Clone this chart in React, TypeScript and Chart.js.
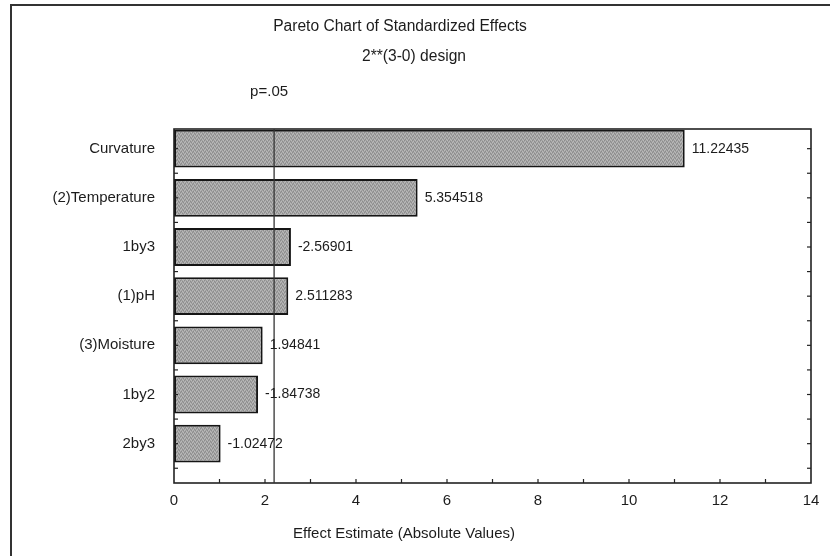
import React, { useEffect, useRef } from "react";
import { Chart, registerables } from "chart.js";

Chart.register(...registerables);

// ---- data ----
const categories = ["Curvature", "(2)Temperature", "1by3", "(1)pH", "(3)Moisture", "1by2", "2by3"];
const effects = [11.22435, 5.354518, -2.56901, 2.511283, 1.94841, -1.84738, -1.02472];
const xTickValues = [0, 2, 4, 6, 8, 10, 12, 14];
const pCritical = 2.2;
const titleText = "Pareto Chart of Standardized Effects";
const subtitleText = "2**(3-0) design";
const pLabelText = "p=.05";
const xAxisTitle = "Effect Estimate (Absolute Values)";

const FONT = '"Liberation Sans", Arial, sans-serif';
const INK = "#1c1c1c";

const decorPlugin = {
  id: "decor",
  afterDatasetsDraw(chart: any) {
    const { ctx, chartArea, scales } = chart;
    const xs = scales.x;
    const ys = scales.y;
    ctx.save();
    // plot border
    ctx.strokeStyle = "#222";
    ctx.lineWidth = 1.6;
    ctx.strokeRect(chartArea.left, chartArea.top, chartArea.right - chartArea.left, chartArea.bottom - chartArea.top);
    // x ticks (inside, every unit)
    ctx.lineWidth = 1.2;
    for (let v = 1; v < 14; v++) {
      const px = xs.getPixelForValue(v);
      ctx.beginPath();
      ctx.moveTo(px, chartArea.bottom);
      ctx.lineTo(px, chartArea.bottom - 4);
      ctx.stroke();
    }
    // y minor ticks (inside, every half slot)
    for (let v = -0.5; v <= 7; v += 0.5) {
      const py = ys.getPixelForValue(v);
      if (py <= chartArea.top + 1 || py >= chartArea.bottom - 1) continue;
      ctx.beginPath();
      ctx.moveTo(chartArea.left, py);
      ctx.lineTo(chartArea.left + 4, py);
      ctx.stroke();
      ctx.beginPath();
      ctx.moveTo(chartArea.right, py);
      ctx.lineTo(chartArea.right - 4, py);
      ctx.stroke();
    }
    // p=.05 reference line
    const lx = xs.getPixelForValue(pCritical);
    ctx.strokeStyle = "#333";
    ctx.lineWidth = 1.3;
    ctx.beginPath();
    ctx.moveTo(lx, chartArea.top);
    ctx.lineTo(lx, chartArea.bottom);
    ctx.stroke();

    ctx.fillStyle = INK;
    ctx.textBaseline = "middle";
    // value labels
    ctx.font = `14px ${FONT}`;
    const meta = chart.getDatasetMeta(0);
    ctx.textAlign = "left";
    meta.data.forEach((el: any, i: number) => {
      ctx.fillText(String(effects[i]), el.x + 7, el.y);
    });
    // titles
    ctx.font = `15.6px ${FONT}`;
    ctx.textAlign = "center";
    ctx.fillText(titleText, 400, 27);
    ctx.fillText(subtitleText, 414, 57);
    ctx.font = `15px ${FONT}`;
    ctx.fillText(pLabelText, lx - 5, 92);
    ctx.fillText(xAxisTitle, 404, 534);
    ctx.restore();
  },
};

export default function App() {
  const ref = useRef<HTMLCanvasElement | null>(null);

  useEffect(() => {
    const canvas = ref.current;
    if (!canvas) return;
    const ctx = canvas.getContext("2d")!;

    const pc = document.createElement("canvas");
    pc.width = 4;
    pc.height = 4;
    const p = pc.getContext("2d")!;
    p.fillStyle = "#a3a3a3";
    p.fillRect(0, 0, 4, 4);
    p.fillStyle = "#8c8c8c";
    [[0, 0], [2, 1], [1, 3], [3, 2]].forEach(([a, b]) => p.fillRect(a, b, 1, 1));
    p.fillStyle = "#bababa";
    [[2, 3], [0, 2], [3, 0], [1, 1]].forEach(([a, b]) => p.fillRect(a, b, 1, 1));
    const pattern = ctx.createPattern(pc, "repeat");

    const chart = new Chart(ctx, {
      type: "bar",
      data: {
        datasets: [
          {
            data: effects.map((v, i) => ({ x: Math.abs(v), y: i })),
            backgroundColor: pattern as any,
            borderColor: "#151515",
            borderWidth: 2,
            borderSkipped: false,
            barPercentage: 0.77,
            categoryPercentage: 1,
          },
        ],
      },
      options: {
        indexAxis: "y",
        animation: false,
        responsive: false,
        maintainAspectRatio: false,
        layout: { padding: { top: 129, right: 19, left: 0, bottom: 0 } },
        plugins: {
          legend: { display: false },
          tooltip: { enabled: false },
          title: { display: false },
        },
        scales: {
          x: {
            type: "linear",
            position: "bottom",
            min: 0,
            max: 14,
            offset: false,
            afterBuildTicks: (s: any) => {
              s.ticks = xTickValues.map((v) => ({ value: v }));
            },
            afterFit: (s: any) => {
              s.height = 73;
            },
            grid: { display: false, drawTicks: false, offset: false },
            border: { display: false },
            ticks: { padding: 9, color: INK, font: { family: FONT, size: 15 }, maxRotation: 0, autoSkip: false },
          },
          y: {
            type: "linear",
            reverse: true,
            min: -0.4,
            max: 6.8,
            offset: false,
            afterBuildTicks: (s: any) => {
              s.ticks = categories.map((_, i) => ({ value: i }));
            },
            afterFit: (s: any) => {
              s.width = 174;
            },
            grid: { display: false, drawTicks: false, offset: false },
            border: { display: false },
            ticks: {
              padding: 19,
              color: INK,
              font: { family: FONT, size: 15 },
              autoSkip: false,
              callback: (v: any) => categories[v as number] ?? "",
            },
          },
        },
      } as any,
      plugins: [decorPlugin],
    });
    return () => chart.destroy();
  }, []);

  return (
    <div style={{ position: "fixed", left: 0, top: 0, width: 830, height: 556, background: "#fff", overflow: "hidden" }}>
      <canvas ref={ref} width={830} height={556} style={{ position: "absolute", left: 0, top: 0 }} />
      <div
        style={{
          position: "absolute",
          left: 10,
          top: 4,
          width: 900,
          height: 700,
          borderLeft: "2px solid #333",
          borderTop: "2px solid #333",
          pointerEvents: "none",
        }}
      />
    </div>
  );
}
